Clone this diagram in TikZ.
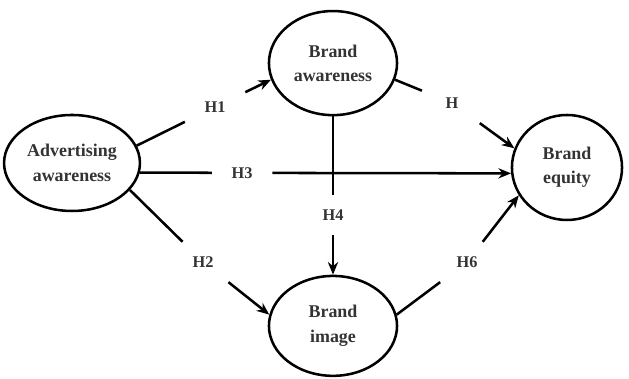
\documentclass[tikz,border=0pt]{standalone}
\usepackage{fontspec}
\setmainfont{Liberation Serif}
\usetikzlibrary{shapes.geometric, arrows.meta}

\begin{document}
\begin{tikzpicture}[
	construct/.style={ellipse, draw, line width=2.4pt, inner sep=0pt, align=center, text=black!80, font=\bfseries\fontsize{17}{23}\selectfont},
	hyp/.style={minimum width=2cm, minimum height=1.33cm, inner sep=0pt, text=black!80, font=\bfseries\fontsize{15.5}{18}\selectfont},
	link/.style={line width=2.4pt},
	>={Stealth[length=4.2mm, width=3.4mm]}
	]
				\useasboundingbox (0,0) rectangle (20.967,12.633);
				\node[construct, minimum width=4.53cm, minimum height=3.2cm] (adv) at (2.4,7.2) {Advertising\\awareness};
				\node[construct, minimum width=4.27cm, minimum height=3.47cm] (aw) at (11.1,10.53) {Brand\\awareness};
				\node[construct, minimum width=3.67cm, minimum height=3.5cm] (eq) at (18.9,7.05) {Brand\\equity};
				\node[construct, minimum width=4.27cm, minimum height=3.33cm] (img) at (11.1,1.77) {Brand\\image};
				\node[hyp] (h1) at (7.17,9.07) {H1};
				\node[hyp] (h2) at (6.77,3.9) {H2};
				\node[hyp] (h3) at (8.07,6.87) {H3};
				\node[hyp] (h4) at (11.1,5.47) {H4};
				\node[hyp] (h5) at (15.07,9.2) {H};
				\node[hyp] (h6) at (15.57,3.9) {H6};
				\draw[link] (adv.15) -- (h1);
				\draw[link,->] (h1) -- (aw.195);
				\draw[link] (adv.-8) -- (h3);
				\draw[link,->] (h3) -- (eq.186);
				\draw[link] (adv.-25) -- (h2);
				\draw[link,->] (h2) -- (img.170);
				\draw[link] (aw) -- (h4);
				\draw[link,->] (h4) -- (img);
				\draw[link] (aw.-15) -- (h5);
				\draw[link,->] (h5) -- (eq.160);
				\draw[link] (img.10) -- (h6);
				\draw[link,->] (h6) -- (eq.210);
\end{tikzpicture}
\end{document}
